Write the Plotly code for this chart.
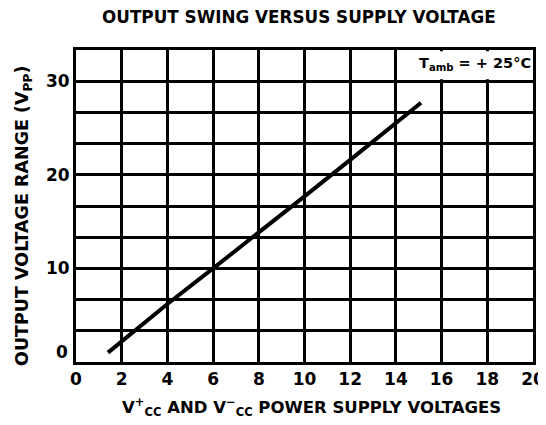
import plotly.graph_objects as go

supply_v = [1.4, 4, 6, 8, 10, 12, 15.1]
swing_vpp = [1.0, 6.2, 10.0, 13.8, 17.7, 21.6, 27.7]

x_ticks = list(range(0, 21, 2))
y_ticks = [10, 20, 30]
y_grid = [i * 10 / 3 for i in range(11)]

FONT = "DejaVu Sans"
W = "bold"

# plot area in screen pixels (page body adds an 8px offset)
PL, PR, PT, PB = 76, 533, 50, 362
PW, PH = PR - PL, PB - PT


def px(x):
    return (x - PL) / PW


def py(y):
    return (PB - y) / PH


fig = go.Figure()
fig.add_trace(go.Scatter(x=supply_v, y=swing_vpp, mode="lines",
                         line=dict(color="black", width=4), showlegend=False))

fig.update_layout(
    width=546, height=425,
    margin=dict(l=PL - 8, r=546 - PR + 8, t=PT - 8, b=425 - PB + 8, autoexpand=False),
    plot_bgcolor="white", paper_bgcolor="white",
    xaxis=dict(range=[0, 20], tickvals=x_ticks, ticktext=[str(t) for t in x_ticks],
               showgrid=True, gridcolor="black", gridwidth=2.5, automargin=False,
               showline=True, linecolor="black", linewidth=3, mirror=True,
               zeroline=False, ticks="", ticklen=0,
               tickfont=dict(family=FONT, size=17, color="black", weight=W)),
    yaxis=dict(range=[0, 100 / 3], tickvals=y_ticks, ticktext=[str(t) for t in y_ticks],
               showgrid=True, gridcolor="black", gridwidth=2.5, automargin=False,
               minor=dict(tickvals=y_grid, showgrid=True, gridcolor="black", gridwidth=2.5,
                          ticks=""),
               showline=True, linecolor="black", linewidth=3, mirror=True,
               zeroline=False, ticks="",
               tickfont=dict(family=FONT, size=17, color="black", weight=W)),
    font=dict(family=FONT, color="black", weight=W),
)

fig.add_annotation(x=px(299), y=py(17), xref="paper", yref="paper", showarrow=False,
                   xanchor="center", yanchor="middle",
                   text="OUTPUT SWING VERSUS SUPPLY VOLTAGE",
                   font=dict(family=FONT, size=16.8, color="black", weight=W))

# white box for the temperature label
fig.add_shape(type="rect", x0=14.1, x1=19.9, y0=30.2, y1=33.2, xref="x", yref="y",
              fillcolor="white", line=dict(width=0), layer="above")
fig.add_annotation(x=20, y=31.8, xref="x", yref="y", xanchor="right", yanchor="middle",
                   text="T<sub>amb</sub> = + 25°C", showarrow=False,
                   font=dict(family=FONT, size=14.5, color="black", weight=W))

# raised 0 label on y axis
fig.add_annotation(x=0, y=1.1, xref="x", yref="y", xanchor="right", xshift=-6,
                   text="0", showarrow=False,
                   font=dict(family=FONT, size=17, color="black", weight=W))

fig.add_annotation(x=px(23), y=py(216), xref="paper", yref="paper",
                   xanchor="center", yanchor="middle",
                   text="OUTPUT VOLTAGE RANGE (V<sub>PP</sub>)", textangle=-90,
                   showarrow=False, font=dict(family=FONT, size=17.5, color="black", weight=W))
fig.add_annotation(x=px(311), y=py(407), xref="paper", yref="paper",
                   xanchor="center", yanchor="middle",
                   text="V<sup>+</sup><sub>CC</sub> AND V<sup>−</sup><sub>CC</sub> POWER SUPPLY VOLTAGES",
                   showarrow=False, font=dict(family=FONT, size=16.5, color="black", weight=W))

fig.write_html("out.html")
